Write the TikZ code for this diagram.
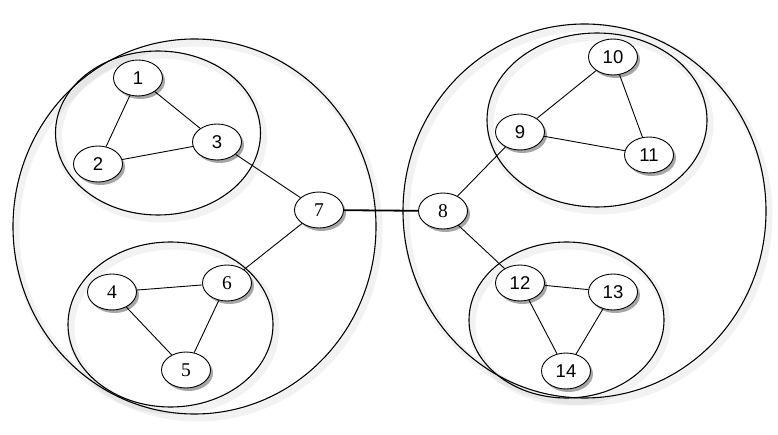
\documentclass[tikz,border=0pt]{standalone}
\usepackage{fontspec}
\setmainfont{Liberation Sans}
\newfontfamily\serifnum{Liberation Serif}
\usetikzlibrary{shapes.geometric,shadows}
\tikzset{
  vtx/.style={ellipse, draw=black, line width=0.9pt, fill=white, minimum width=49pt, minimum height=36pt, inner sep=0pt,
    font=\fontsize{18.5}{20}\selectfont,
    drop shadow={shadow xshift=2.5pt, shadow yshift=-3pt, opacity=0.35, fill=black}},
  svtx/.style={vtx, font=\serifnum\fontsize{19.5}{20}\selectfont},
  grp/.style={draw=black, line width=1.1pt},
  grpshadow/.style={draw=black, line width=7pt, opacity=0.05},
  edge/.style={draw=black, line width=0.9pt},
  bridge/.style={draw=black, line width=1.8pt}
}
\begin{document}
\begin{tikzpicture}[x=1pt,y=-1pt]
\useasboundingbox (0,0) rectangle (778,435);
% soft halos
\foreach \cx/\cy/\rx/\ry in {194.5/226.5/181.5/187.5, 158/133/102.5/82, 170.5/324.5/102.5/82.5, 584.5/211/181.5/187, 597/120/110/87, 566.5/320/97.5/78}{
  \path[grpshadow] (\cx+3,\cy+4) ellipse [x radius=\rx pt, y radius=\ry pt];
}
% groups
\path[grp] (194.5,226.5) ellipse [x radius=181.5pt, y radius=187.5pt];
\path[grp] (158,133) ellipse [x radius=102.5pt, y radius=82pt];
\path[grp] (170.5,324.5) ellipse [x radius=102.5pt, y radius=82.5pt];
\path[grp] (584.5,211) ellipse [x radius=181.5pt, y radius=187pt];
\path[grp] (597,120) ellipse [x radius=110pt, y radius=87pt];
\path[grp] (566.5,320) ellipse [x radius=97.5pt, y radius=78pt];
% nodes
\node[vtx]  (n1)  at (138,78)  {1};
\node[vtx]  (n2)  at (98,164)  {2};
\node[vtx]  (n3)  at (217,142) {3};
\node[svtx] (n7)  at (319,210) {7};
\node[svtx] (n4)  at (112,292) {4};
\node[svtx] (n6)  at (227,283) {6};
\node[svtx] (n5)  at (186,370) {5};
\node[svtx] (n8)  at (443,211) {8};
\node[vtx]  (n9)  at (520,132) {9};
\node[vtx]  (n10) at (613,57)  {10};
\node[vtx]  (n11) at (649,155) {11};
\node[vtx]  (n12) at (520,283) {12};
\node[vtx]  (n13) at (613,292) {13};
\node[vtx]  (n14) at (566,371) {14};
% edges
\path[edge] (n1) -- (n2);
\path[edge] (n1) -- (n3);
\path[edge] (n2) -- (n3);
\path[edge] (n3) -- (n7);
\path[edge] (n7) -- (n6);
\path[edge] (n4) -- (n6);
\path[edge] (n4) -- (n5);
\path[edge] (n6) -- (n5);
\path[bridge] (n7) -- (n8);
\path[edge] (n8) -- (n9);
\path[edge] (n9) -- (n10);
\path[edge] (n9) -- (n11);
\path[edge] (n10) -- (n11);
\path[edge] (n8) -- (n12);
\path[edge] (n12) -- (n13);
\path[edge] (n12) -- (n14);
\path[edge] (n13) -- (n14);
\end{tikzpicture}
\end{document}
